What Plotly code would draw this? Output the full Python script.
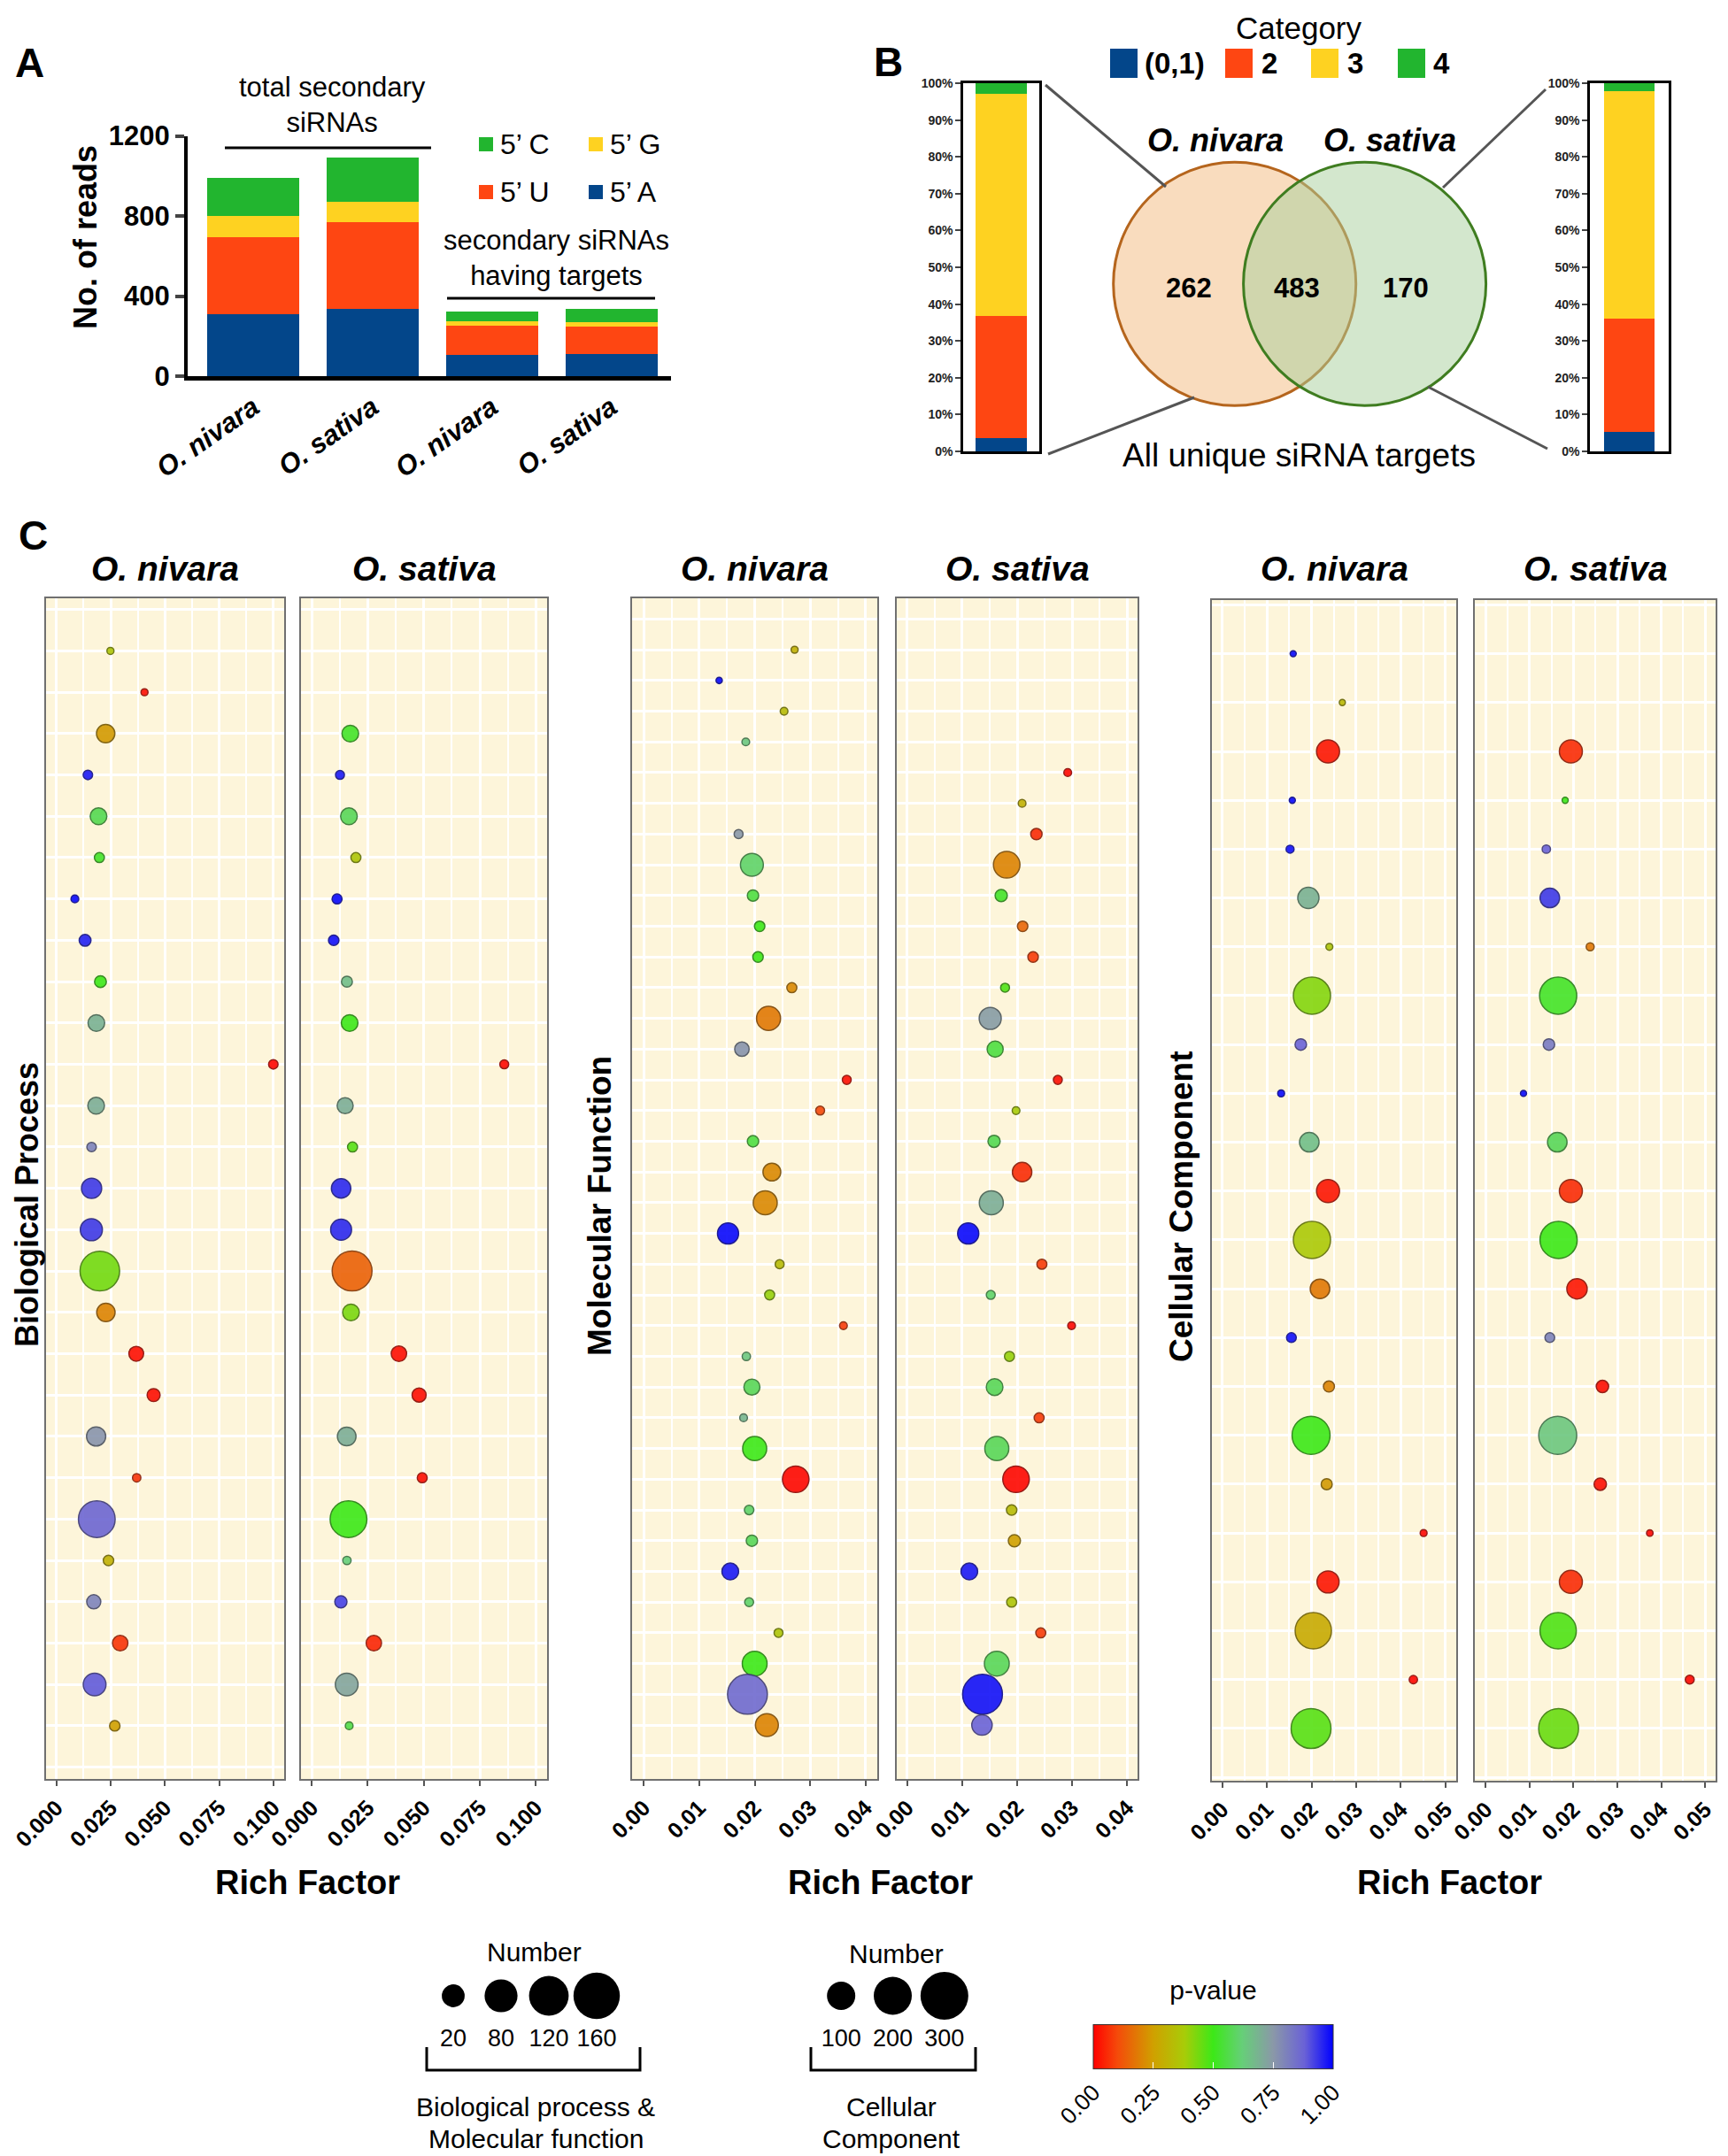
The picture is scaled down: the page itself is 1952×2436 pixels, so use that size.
import plotly.graph_objects as go

W, H = 1952, 2436
OFF = 8  # compensate the page's default body margin
def X(px): return (px - OFF) / W
def Y(py): return 1 - (py - OFF) / H

FONT = "Liberation Sans, Arial, Helvetica, sans-serif"

# ---------------- Panel A data ----------------
bar_groups = ["O. nivara", "O. sativa", "O. nivara ", "O. sativa "]
reads_5A = [311, 337, 106, 111]
reads_5U = [381, 433, 144, 136]
reads_5G = [109, 103, 22, 23]
reads_5C = [190, 221, 49, 64]
nuc_labels = ["5’ A", "5’ U", "5’ G", "5’ C"]
nuc_colors = ["#03468a", "#fe4612", "#fed221", "#22b52f"]
a_ticks = [0, 400, 800, 1200]

# ---------------- Panel B data ----------------
category_labels = ["(0,1)", "2", "3", "4"]
nivara_pct = [3.5, 33.4, 60.2, 2.9]
sativa_pct = [5.2, 30.9, 61.8, 2.1]
venn_counts = [262, 483, 170]   # nivara only, shared, sativa only
pct_ticks = [0, 10, 20, 30, 40, 50, 60, 70, 80, 90, 100]

# ---------------- Panel C data (rows top -> bottom, None = no term) ----------------
bp_niv_rich = [0.0249, 0.0406, 0.0227, 0.0145, 0.0194, 0.0198, 0.0085, 0.0132, 0.0203, 0.0184,
               0.1000, 0.0183, 0.0162, 0.0162, 0.0161, 0.0200, 0.0228, 0.0368, 0.0448, 0.0183,
               0.0370, 0.0186, 0.0240, 0.0172, 0.0294, 0.0176, 0.0269]
bp_niv_num = [5, 5, 34, 9, 28, 10, 6, 14, 14, 28, 9, 28, 9, 41, 49, 158, 34, 22, 17, 37,
              7, 136, 11, 20, 24, 52, 11]
bp_niv_p = [0.36, 0.02, 0.24, 0.97, 0.57, 0.52, 0.99, 0.96, 0.50, 0.69, 0.01, 0.70, 0.80, 0.93,
            0.93, 0.44, 0.20, 0.02, 0.02, 0.76, 0.07, 0.87, 0.30, 0.80, 0.07, 0.89, 0.25]

bp_sat_rich = [None, None, 0.0172, 0.0126, 0.0166, 0.0197, 0.0113, 0.0098, 0.0157, 0.0169,
               0.0859, 0.0149, 0.0182, 0.0131, 0.0131, 0.0180, 0.0175, 0.0389, 0.0479, 0.0156,
               0.0493, 0.0164, 0.0157, 0.0130, 0.0277, 0.0156, 0.0167]
bp_sat_num = [None, None, 28, 8, 28, 10, 10, 11, 12, 28, 8, 26, 10, 38, 44, 160, 28, 24, 20, 35,
              10, 136, 7, 15, 24, 52, 6]
bp_sat_p = [None, None, 0.52, 0.97, 0.58, 0.36, 0.99, 0.98, 0.66, 0.50, 0.01, 0.70, 0.47, 0.95,
            0.95, 0.14, 0.43, 0.02, 0.02, 0.70, 0.02, 0.50, 0.62, 0.92, 0.05, 0.72, 0.56]

mf_niv_rich = [0.0272, 0.0136, 0.0253, 0.0184, None, None, 0.0171, 0.0195, 0.0197, 0.0209,
               0.0206, 0.0267, 0.0225, 0.0177, 0.0366, 0.0318, 0.0197, 0.0231, 0.0219, 0.0152,
               0.0245, 0.0227, 0.0360, 0.0185, 0.0195, 0.0180, 0.0200, 0.0274, 0.0190, 0.0195,
               0.0156, 0.0190, 0.0243, 0.0200, 0.0187, 0.0222]
mf_niv_num = [5, 4, 6, 6, None, None, 8, 53, 13, 11, 11, 10, 58, 21, 8, 8, 13, 32, 58, 45,
              8, 10, 6, 7, 26, 6, 58, 71, 9, 13, 28, 8, 8, 62, 160, 53]
mf_niv_p = [0.30, 0.99, 0.33, 0.64, None, None, 0.75, 0.60, 0.55, 0.50, 0.50, 0.21, 0.18, 0.76,
            0.02, 0.10, 0.55, 0.21, 0.21, 0.99, 0.33, 0.40, 0.08, 0.64, 0.58, 0.68, 0.50, 0.01,
            0.60, 0.58, 0.97, 0.60, 0.36, 0.50, 0.86, 0.20]

mf_sat_rich = [None, None, None, None, 0.0292, 0.0209, 0.0235, 0.0181, 0.0171, 0.0210,
               0.0229, 0.0178, 0.0151, 0.0160, 0.0274, 0.0198, 0.0158, 0.0209, 0.0153, 0.0111,
               0.0245, 0.0152, 0.0299, 0.0186, 0.0159, 0.0240, 0.0163, 0.0198, 0.0190, 0.0195,
               0.0113, 0.0190, 0.0243, 0.0163, 0.0137, 0.0136]
mf_sat_num = [None, None, None, None, 6, 6, 13, 71, 15, 11, 11, 8, 49, 26, 8, 6, 15, 38, 58, 45,
              10, 8, 6, 10, 28, 10, 58, 71, 11, 15, 28, 10, 10, 62, 160, 42]
mf_sat_p = [None, None, None, None, 0.01, 0.30, 0.06, 0.20, 0.52, 0.15, 0.08, 0.48, 0.74, 0.55,
            0.02, 0.38, 0.57, 0.06, 0.70, 0.99, 0.08, 0.60, 0.01, 0.40, 0.58, 0.08, 0.58, 0.01,
            0.33, 0.25, 0.97, 0.36, 0.08, 0.58, 0.98, 0.88]

cc_niv_rich = [0.0159, 0.0269, 0.0237, 0.0157, 0.0152, 0.0193, 0.0240, 0.0201, 0.0176, 0.0132,
               0.0195, 0.0237, 0.0201, 0.0219, 0.0155, 0.0239, 0.0199, 0.0234, 0.0451, 0.0237,
               0.0204, 0.0428, 0.0199]
cc_niv_num = [7, 7, 100, 7, 12, 85, 9, 261, 25, 9, 72, 100, 261, 72, 18, 23, 273, 23, 9, 92,
              249, 13, 300]
cc_niv_p = [0.99, 0.32, 0.03, 0.99, 0.98, 0.69, 0.36, 0.42, 0.88, 0.99, 0.66, 0.03, 0.37, 0.18,
            0.98, 0.20, 0.50, 0.24, 0.01, 0.03, 0.28, 0.01, 0.47]

cc_sat_rich = [None, None, 0.0194, 0.0181, 0.0138, 0.0146, 0.0238, 0.0165, 0.0144, 0.0086,
               0.0163, 0.0194, 0.0166, 0.0208, 0.0146, 0.0266, 0.0164, 0.0261, 0.0374, 0.0194,
               0.0165, 0.0465, 0.0166]
cc_sat_num = [None, None, 100, 7, 13, 72, 12, 261, 25, 7, 72, 100, 261, 78, 18, 29, 273, 29, 8,
              100, 249, 15, 300]
cc_sat_p = [None, None, 0.06, 0.50, 0.88, 0.93, 0.18, 0.52, 0.82, 0.99, 0.58, 0.06, 0.50, 0.03,
            0.80, 0.02, 0.64, 0.02, 0.01, 0.06, 0.48, 0.01, 0.45]

bpmf_legend_vals = [20, 80, 120, 160]
cc_legend_vals = [100, 200, 300]
pval_ticks = [0, 0.25, 0.5, 0.75, 1.0]

# ---------------- styles ----------------
pscale = [[0.0, "#ff0000"], [0.1, "#f54a0a"], [0.25, "#d0a000"], [0.38, "#a8cc08"],
          [0.5, "#3ce818"], [0.62, "#66cf78"], [0.75, "#8a98a8"], [0.88, "#6a62d6"],
          [1.0, "#0000ff"]]

def darker(hexc, f=0.55):
    h = hexc.lstrip("#")
    r, g, b = int(h[0:2], 16), int(h[2:4], 16), int(h[4:6], 16)
    return "rgb(%d,%d,%d)" % (r * f, g * f, b * f)

pscale_dark = [[s, darker(c)] for s, c in pscale]
cat_colors = ["#03468a", "#fe4612", "#fed221", "#22b52f"]
CREAM = "#fdf5da"

fig = go.Figure()
layout = dict(width=W, height=H, margin=dict(l=0, r=0, t=0, b=0, pad=0, autoexpand=False),
              paper_bgcolor="white", plot_bgcolor="white", showlegend=False,
              barmode="stack", font=dict(family=FONT, color="black"))
annotations, shapes = [], []

def ann(text, px, py, size, bold=False, italic=False, angle=0, xanchor="center", yanchor="middle", color="black"):
    t = text
    if italic:
        t = "<i>%s</i>" % t
    if bold:
        t = "<b>%s</b>" % t
    annotations.append(dict(text=t, x=X(px), y=Y(py), xref="paper", yref="paper",
                            showarrow=False, textangle=angle, xanchor=xanchor, yanchor=yanchor,
                            font=dict(size=size, family=FONT, color=color)))

# ================= Panel A =================
for vals, lab, col in zip([reads_5A, reads_5U, reads_5G, reads_5C], nuc_labels, nuc_colors):
    fig.add_trace(go.Bar(x=bar_groups, y=vals, name=lab, marker=dict(color=col, line=dict(width=0)),
                         width=0.77, xaxis="x", yaxis="y"))
layout["xaxis"] = dict(domain=[X(212), X(758)], anchor="y", range=[-0.55, 3.5],
                       tickvals=bar_groups,
                       ticktext=["<b><i>%s</i></b>" % g.strip() for g in bar_groups],
                       tickangle=-35, tickfont=dict(size=31), showline=True, linewidth=5,
                       linecolor="black", ticks="", showgrid=False, zeroline=False, automargin=False)
layout["yaxis"] = dict(domain=[Y(425), Y(153.6)], anchor="x", range=[0, 1200], tickvals=a_ticks,
                       tickfont=dict(size=31, weight="bold"), showline=True, linewidth=4,
                       linecolor="black", ticks="outside", ticklen=10, tickwidth=4,
                       showgrid=False, zeroline=False, automargin=False)
ann("A", 33, 71, 46, bold=True)
ann("No. of reads", 97, 268, 36, bold=True, angle=-90)
ann("total secondary<br>siRNAs", 375, 119, 31)
ann("secondary siRNAs<br>having targets", 628, 292, 31)
shapes.append(dict(type="line", xref="paper", yref="paper", x0=X(254), x1=X(487), y0=Y(167), y1=Y(167),
                   line=dict(color="black", width=3)))
shapes.append(dict(type="line", xref="paper", yref="paper", x0=X(505), x1=X(740), y0=Y(337), y1=Y(337),
                   line=dict(color="black", width=3)))
# legend (C, G / U, A)
leg_pos = {"5’ C": (541, 163), "5’ G": (665, 163), "5’ U": (541, 217), "5’ A": (665, 217)}
for lab, col in zip(nuc_labels, nuc_colors):
    px, py = leg_pos[lab]
    shapes.append(dict(type="rect", xref="paper", yref="paper", x0=X(px), x1=X(px + 16),
                       y0=Y(py + 8), y1=Y(py - 8), fillcolor=col, line=dict(width=0)))
    ann(lab, px + 22, py, 32, xanchor="left")

# ================= Panel B =================
for i, (lab, col) in enumerate(zip(category_labels, cat_colors)):
    fig.add_trace(go.Bar(x=["O. nivara"], y=[nivara_pct[i]], marker=dict(color=col, line=dict(width=0)),
                         width=0.67, xaxis="x2", yaxis="y2", name=lab))
    fig.add_trace(go.Bar(x=["O. sativa"], y=[sativa_pct[i]], marker=dict(color=col, line=dict(width=0)),
                         width=0.64, xaxis="x3", yaxis="y3", name=lab))
for k, (x0, x1) in zip(["2", "3"], [(1088, 1174), (1796, 1885)]):
    layout["xaxis" + k] = dict(domain=[X(x0), X(x1)], anchor="y" + k, range=[-0.5, 0.5],
                               showticklabels=False, ticks="", showline=True, mirror=True,
                               linecolor="black", linewidth=2.5, showgrid=False, zeroline=False,
                               automargin=False)
    layout["yaxis" + k] = dict(domain=[Y(510), Y(94)], anchor="x" + k, range=[0, 100],
                               tickmode="array", tickvals=pct_ticks,
                               ticktext=["%d%%" % v for v in pct_ticks],
                               tickfont=dict(size=14, weight="bold", color="#222"),
                               ticks="outside", ticklen=6, tickwidth=2, showline=True, mirror=True,
                               linecolor="black", linewidth=2.5, showgrid=False, zeroline=False,
                               automargin=False)
ann("B", 1003, 70, 46, bold=True)
ann("Category", 1467.5, 31, 35)
leg_b = [(1254, 1291), (1384, 1423), (1481, 1520), (1579, 1617)]
for (bx, tx), lab, col in zip(leg_b, category_labels, cat_colors):
    shapes.append(dict(type="rect", xref="paper", yref="paper", x0=X(bx), x1=X(bx + 31),
                       y0=Y(88), y1=Y(55), fillcolor=col, line=dict(width=0)))
    ann(lab, tx, 72, 33, bold=True, xanchor="left")
# Venn
shapes.append(dict(type="circle", xref="paper", yref="paper", x0=X(1394.7 - 137), x1=X(1394.7 + 137),
                   y0=Y(320.7 + 137.5), y1=Y(320.7 - 137.5), fillcolor="#f9dcbe",
                   line=dict(color="#b5651d", width=3)))
shapes.append(dict(type="circle", xref="paper", yref="paper", x0=X(1541.6 - 137), x1=X(1541.6 + 137),
                   y0=Y(320.7 + 137.5), y1=Y(320.7 - 137.5), fillcolor="rgba(167,207,155,0.5)",
                   line=dict(color="#3f7d20", width=3)))
for txt, px in zip(venn_counts, [1343, 1464.5, 1588]):
    ann(str(txt), px, 325, 31, bold=True)
ann("O. nivara", 1373, 159, 36, bold=True, italic=True)
ann("O. sativa", 1570, 159, 36, bold=True, italic=True)
ann("All unique siRNA targets", 1467.5, 514, 37)
for (a, b, c, d) in [(1181, 96, 1317, 211), (1184, 513, 1349, 449), (1746, 101, 1630, 212), (1748, 507, 1613, 437)]:
    shapes.append(dict(type="line", xref="paper", yref="paper", x0=X(a), y0=Y(b), x1=X(c), y1=Y(d),
                       line=dict(color="#555555", width=3)))

# ================= Panel C =================
panels = [
    # rich, num, p, x-domain px, y-domain px, x-range, dtick, minor, fmt, row-range, sizeref
    (bp_niv_rich, bp_niv_num, bp_niv_p, (52, 321), (676, 2010), [-0.0048, 0.105], 0.025, 0.0125, ".3f", [28.285, -0.272], 0.158),
    (bp_sat_rich, bp_sat_num, bp_sat_p, (340, 618), (676, 2010), [-0.0048, 0.105], 0.025, 0.0125, ".3f", [28.285, -0.272], 0.158),
    (mf_niv_rich, mf_niv_num, mf_niv_p, (714, 991), (676, 2010), [-0.0021, 0.0421], 0.01, 0.005, ".2f", [37.755, -0.674], 0.158),
    (mf_sat_rich, mf_sat_num, mf_sat_p, (1013, 1285), (676, 2010), [-0.0019, 0.0419], 0.01, 0.005, ".2f", [37.755, -0.674], 0.158),
    (cc_niv_rich, cc_niv_num, cc_niv_p, (1369, 1645), (678, 2012), [-0.0023, 0.0524], 0.01, 0.005, ".2f", [24.07, -0.098], 0.296),
    (cc_sat_rich, cc_sat_num, cc_sat_p, (1666, 1938), (678, 2012), [-0.0025, 0.0524], 0.01, 0.005, ".2f", [24.07, -0.098], 0.296),
]
titles = ["O. nivara", "O. sativa"] * 3
for idx, (rich, num, pv, xd, yd, xr, dt, mdt, fmt, yr, sref) in enumerate(panels):
    k = str(idx + 4)
    rows = [i + 1 for i, v in enumerate(rich) if v is not None]
    xs = [v for v in rich if v is not None]
    ns = [v for v in num if v is not None]
    ps = [v for v in pv if v is not None]
    fig.add_trace(go.Scatter(
        x=xs, y=rows, mode="markers", xaxis="x" + k, yaxis="y" + k,
        marker=dict(size=ns, sizemode="area", sizeref=sref, color=ps, coloraxis="coloraxis",
                    opacity=0.9,
                    line=dict(color=ps, colorscale=pscale_dark, cmin=0, cmax=1, width=1.5))))
    layout["xaxis" + k] = dict(domain=[X(xd[0]), X(xd[1])], anchor="y" + k, range=xr, tick0=0, dtick=dt,
                               tickformat=fmt, tickangle=-45,
                               tickfont=dict(size=25, weight="bold", color="black"),
                               ticks="outside", ticklen=6, tickwidth=2, tickcolor="#555",
                               showline=True, mirror=True, linecolor="#707070", linewidth=2,
                               showgrid=True, gridcolor="white", gridwidth=2.5, zeroline=False,
                               automargin=False,
                               minor=dict(tick0=0, dtick=mdt, showgrid=True, gridcolor="white", gridwidth=1.5))
    layout["yaxis" + k] = dict(domain=[Y(yd[1]), Y(yd[0])], anchor="x" + k, range=yr, tick0=1, dtick=1,
                               showticklabels=False, ticks="", showline=True, mirror=True,
                               linecolor="#707070", linewidth=2, showgrid=True, gridcolor="white",
                               gridwidth=2.5, zeroline=False, automargin=False)
    shapes.append(dict(type="rect", xref="x%s domain" % k, yref="y%s domain" % k, x0=0, x1=1, y0=0, y1=1,
                       fillcolor=CREAM, line=dict(width=0), layer="below"))
    annotations.append(dict(text="<b><i>%s</i></b>" % titles[idx], xref="x%s domain" % k, yref="paper",
                            x=0.5, y=Y(643), showarrow=False, xanchor="center", yanchor="middle",
                            font=dict(size=39, family=FONT, color="black")))

ann("C", 37, 605, 46, bold=True)
ann("Biological Process", 30, 1361, 36, bold=True, angle=-90)
ann("Molecular Function", 677, 1363, 37, bold=True, angle=-90)
ann("Cellular Component", 1334, 1363, 37, bold=True, angle=-90)
for px in [347, 994, 1637]:
    ann("Rich Factor", px, 2127, 38, bold=True)

# ================= size legends =================
fig.add_trace(go.Scatter(x=[str(v) for v in bpmf_legend_vals], y=[0] * len(bpmf_legend_vals),
                         mode="markers", xaxis="x10", yaxis="y10",
                         marker=dict(size=[22 + 0.19 * v for v in bpmf_legend_vals], color="black",
                                     opacity=1, line=dict(width=0))))
fig.add_trace(go.Scatter(x=[str(v) for v in cc_legend_vals], y=[0] * len(cc_legend_vals),
                         mode="markers", xaxis="x11", yaxis="y11",
                         marker=dict(size=[21 + 0.11 * v for v in cc_legend_vals], color="black",
                                     opacity=1, line=dict(width=0))))
for k, (x0, x1) in zip(["10", "11"], [(485, 701), (921, 1096)]):
    layout["xaxis" + k] = dict(domain=[X(x0), X(x1)], anchor="y" + k, type="category",
                               range=[-0.5, (3.5 if k == "10" else 2.5)],
                               tickfont=dict(size=27), ticks="", showline=False, showgrid=False,
                               zeroline=False, automargin=False)
    layout["yaxis" + k] = dict(domain=[Y(2284), Y(2226)], anchor="x" + k, range=[-1, 1], visible=False)
ann("Number", 603, 2205, 30)
ann("Number", 1012, 2207, 30)
ann("Biological process &", 605, 2380, 30)
ann("Molecular function", 605, 2416, 30)
ann("Cellular", 1007, 2380, 30)
ann("Component", 1007, 2416, 30)
for (a, b) in [(482, 723), (916, 1102)]:
    shapes.append(dict(type="path", xref="paper", yref="paper",
                       path="M %f,%f L %f,%f L %f,%f L %f,%f" % (X(a), Y(2313), X(a), Y(2339), X(b), Y(2339), X(b), Y(2313)),
                       line=dict(color="black", width=3)))

# ================= colour scale =================
layout["coloraxis"] = dict(cmin=0, cmax=1, colorscale=pscale,
                           colorbar=dict(orientation="h", x=X(1370.5), xanchor="center",
                                         y=Y(2415), yanchor="bottom", thickness=50, len=271,
                                         lenmode="pixels", xpad=0, ypad=0,
                                         title=dict(text="p-value", side="top", font=dict(size=30)),
                                         tickvals=pval_ticks, tickformat=".2f", tickangle=-45,
                                         tickfont=dict(size=26), ticks="inside", tickcolor="white",
                                         ticklen=8, outlinewidth=1, outlinecolor="#333"))

layout["annotations"] = annotations
layout["shapes"] = shapes
fig.update_layout(**layout)
fig.write_html("out.html")
